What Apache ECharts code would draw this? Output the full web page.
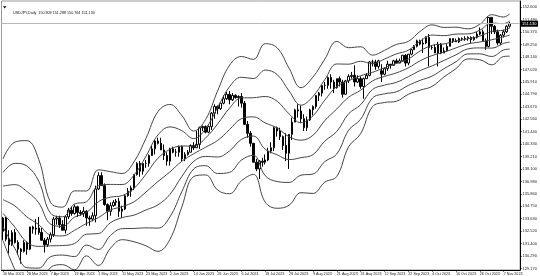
<!DOCTYPE html>
<html><head><meta charset="utf-8">
<script src="https://cdn.jsdelivr.net/npm/echarts@6/dist/echarts.min.js"></script>
<style>html,body{margin:0;padding:0;background:#fff}#c{width:540px;height:276px}</style>
</head><body><div id="c"></div>
<script>
const symbolName = 'USDJPY,Daily';
const dates = [
'16 Mar 2023','17 Mar 2023','20 Mar 2023','21 Mar 2023','22 Mar 2023','23 Mar 2023','24 Mar 2023','27 Mar 2023','28 Mar 2023','29 Mar 2023','30 Mar 2023','31 Mar 2023',
'3 Apr 2023','4 Apr 2023','5 Apr 2023','6 Apr 2023','7 Apr 2023','10 Apr 2023','11 Apr 2023','12 Apr 2023','13 Apr 2023','14 Apr 2023','17 Apr 2023','18 Apr 2023','19 Apr 2023','20 Apr 2023','21 Apr 2023','24 Apr 2023','25 Apr 2023','26 Apr 2023','27 Apr 2023','28 Apr 2023',
'1 May 2023','2 May 2023','3 May 2023','4 May 2023','5 May 2023','8 May 2023','9 May 2023','10 May 2023','11 May 2023','12 May 2023','15 May 2023','16 May 2023','17 May 2023','18 May 2023','19 May 2023','22 May 2023','23 May 2023','24 May 2023','25 May 2023','26 May 2023','29 May 2023','30 May 2023','31 May 2023',
'1 Jun 2023','2 Jun 2023','5 Jun 2023','6 Jun 2023','7 Jun 2023','8 Jun 2023','9 Jun 2023','12 Jun 2023','13 Jun 2023','14 Jun 2023','15 Jun 2023','16 Jun 2023','19 Jun 2023','20 Jun 2023','21 Jun 2023','22 Jun 2023','23 Jun 2023','26 Jun 2023','27 Jun 2023','28 Jun 2023','29 Jun 2023','30 Jun 2023',
'3 Jul 2023','4 Jul 2023','5 Jul 2023','6 Jul 2023','7 Jul 2023','10 Jul 2023','11 Jul 2023','12 Jul 2023','13 Jul 2023','14 Jul 2023','17 Jul 2023','18 Jul 2023','19 Jul 2023','20 Jul 2023','21 Jul 2023','24 Jul 2023','25 Jul 2023','26 Jul 2023','27 Jul 2023','28 Jul 2023','31 Jul 2023',
'1 Aug 2023','2 Aug 2023','3 Aug 2023','4 Aug 2023','7 Aug 2023','8 Aug 2023','9 Aug 2023','10 Aug 2023','11 Aug 2023','14 Aug 2023','15 Aug 2023','16 Aug 2023','17 Aug 2023','18 Aug 2023','21 Aug 2023','22 Aug 2023','23 Aug 2023','24 Aug 2023','25 Aug 2023','28 Aug 2023','29 Aug 2023','30 Aug 2023','31 Aug 2023',
'1 Sep 2023','4 Sep 2023','5 Sep 2023','6 Sep 2023','7 Sep 2023','8 Sep 2023','11 Sep 2023','12 Sep 2023','13 Sep 2023','14 Sep 2023','15 Sep 2023','18 Sep 2023','19 Sep 2023','20 Sep 2023','21 Sep 2023','22 Sep 2023','25 Sep 2023','26 Sep 2023','27 Sep 2023','28 Sep 2023','29 Sep 2023',
'2 Oct 2023','3 Oct 2023','4 Oct 2023','5 Oct 2023','6 Oct 2023','9 Oct 2023','10 Oct 2023','11 Oct 2023','12 Oct 2023','13 Oct 2023','16 Oct 2023','17 Oct 2023','18 Oct 2023','19 Oct 2023','20 Oct 2023','23 Oct 2023','24 Oct 2023','25 Oct 2023','26 Oct 2023','27 Oct 2023','30 Oct 2023','31 Oct 2023',
'1 Nov 2023','2 Nov 2023','3 Nov 2023','6 Nov 2023','7 Nov 2023','8 Nov 2023','9 Nov 2023'];

const open = [
132.5,133.7,131.8,131.3,132.4,131.5,130.9,130.7,131.5,130.9,
132.9,132.7,132.8,132.4,131.7,131.3,131.8,132.2,133.6,133.7,
133.1,132.6,133.8,134.4,134.1,134.7,134.2,134.1,134.3,133.7,
133.6,133.9,136.3,137.5,136.6,134.9,134.3,134.8,135.1,135.2,
134.3,134.5,135.7,136.1,136.4,137.6,138.6,137.9,138.6,138.6,
139.3,139.9,140.6,140.4,139.8,139.3,138.8,139.9,139.6,139.6,
140.1,139.0,139.4,139.6,140.2,140.0,140.3,141.8,141.9,141.4,
141.9,143.1,143.7,143.5,144.0,144.4,144.8,144.3,144.7,144.5,
144.6,144.0,142.1,141.3,140.4,138.7,138.1,138.8,138.7,138.9,
139.7,140.0,141.8,141.5,141.0,140.2,139.5,141.2,142.3,143.4,
143.3,142.6,141.8,142.5,143.4,143.7,144.7,144.9,145.6,145.6,
146.3,145.9,145.4,146.2,145.9,144.8,146.0,146.4,146.5,145.9,
146.2,145.5,146.2,146.5,147.7,147.7,147.3,146.9,146.6,147.1,
147.5,147.4,147.8,147.6,147.8,148.3,147.6,148.4,148.8,149.1,
149.6,149.3,149.4,149.9,149.0,149.0,148.5,149.3,148.5,148.7,
149.1,149.8,149.6,149.5,149.8,149.8,149.8,149.9,149.7,149.9,
150.2,150.4,149.6,149.1,151.7,150.9,150.4,149.4,150.1,150.4,
150.909];
const high = [
133.8,133.8,132.6,132.6,132.7,131.7,131.0,131.7,131.6,132.9,
133.0,133.6,133.8,132.8,131.9,132.0,132.4,133.8,133.9,133.9,
133.5,133.9,134.6,134.7,134.9,134.8,134.4,134.7,134.4,133.9,
134.2,136.6,137.8,137.8,136.8,135.0,135.1,135.3,135.4,135.5,
134.8,135.8,136.4,136.6,137.6,138.7,138.8,138.6,138.9,139.4,
140.2,140.7,140.9,140.9,140.3,139.6,140.0,140.1,139.9,140.2,
140.2,139.6,139.8,140.3,140.5,141.5,141.9,142.0,142.0,142.0,
143.2,143.9,143.8,144.0,144.7,145.0,145.1,144.9,144.8,144.7,
144.9,144.2,142.4,141.5,140.4,139.0,138.9,139.1,139.4,140.0,
140.5,141.9,141.9,141.8,141.1,141.3,141.2,142.7,143.5,143.9,
143.8,143.0,142.8,143.5,143.8,144.7,145.0,145.6,145.9,146.4,
146.6,146.1,146.2,146.4,146.1,146.1,146.6,146.8,147.4,146.5,
146.4,146.3,146.7,147.8,147.9,147.9,147.9,147.5,147.2,147.8,
147.5,147.9,148.0,148.0,148.3,148.4,148.4,148.9,149.2,149.7,
149.7,149.8,150.0,150.2,149.2,149.3,149.5,149.4,149.0,149.3,
149.8,149.8,149.8,149.9,149.9,150.0,150.0,150.0,150.0,150.4,
150.8,150.6,149.8,151.7,151.7,151.0,150.6,150.2,150.6,151.0,
151.288];
const low = [
131.7,131.6,130.5,131.2,131.4,130.4,129.6,130.6,130.4,130.8,
132.3,132.2,132.2,131.7,130.6,131.1,131.5,132.0,133.1,132.8,
132.6,132.3,133.6,133.9,134.0,133.8,133.9,133.8,133.0,133.0,
133.4,133.3,136.2,136.6,134.8,133.5,133.9,134.7,134.8,133.8,
133.7,134.4,135.6,135.6,136.2,137.5,137.4,137.6,138.2,138.3,
139.3,139.4,140.3,139.8,138.9,138.4,138.4,139.5,139.2,139.2,
138.8,138.8,139.3,139.6,139.8,140.0,139.9,141.5,141.3,141.3,
141.6,142.6,143.0,143.4,143.9,144.3,143.9,144.2,144.4,143.7,
143.6,142.1,140.9,140.1,138.7,137.9,137.2,138.3,138.5,138.8,
139.5,139.7,141.0,140.7,139.8,138.8,138.1,140.7,142.3,142.7,
142.2,141.5,141.5,142.4,142.9,143.5,144.2,144.6,145.2,145.3,
145.3,144.9,145.3,145.5,144.5,144.8,145.8,146.2,145.5,145.8,
145.3,144.4,146.2,146.4,147.3,147.0,147.1,145.9,146.5,146.9,
147.1,147.4,147.6,147.6,147.8,147.3,147.4,148.3,148.8,149.0,
149.2,148.5,149.3,147.3,148.8,148.5,147.3,148.4,148.5,148.6,
149.1,149.4,149.5,149.4,149.6,149.6,149.6,149.4,149.6,149.8,
150.1,149.6,148.8,149.0,150.2,150.2,149.2,149.2,149.9,150.3,
150.764];
const close = [
133.7,131.8,131.3,132.4,131.5,130.9,130.7,131.5,130.9,132.9,
132.7,132.8,132.4,131.7,131.3,131.8,132.2,133.6,133.7,133.1,
132.6,133.8,134.4,134.1,134.7,134.2,134.1,134.3,133.7,133.6,
133.9,136.3,137.5,136.6,134.9,134.3,134.8,135.1,135.2,134.3,
134.5,135.7,136.1,136.4,137.6,138.6,137.9,138.6,138.6,139.3,
139.9,140.6,140.4,139.8,139.3,138.8,139.9,139.6,139.6,140.1,
139.0,139.4,139.6,140.2,140.0,140.3,141.8,141.9,141.4,141.9,
143.1,143.7,143.5,144.0,144.4,144.8,144.3,144.7,144.5,144.6,
144.0,142.1,141.3,140.4,138.7,138.1,138.8,138.7,138.9,139.7,
140.0,141.8,141.5,141.0,140.2,139.5,141.2,142.3,143.4,143.3,
142.6,141.8,142.5,143.4,143.7,144.7,144.9,145.6,145.6,146.3,
145.9,145.4,146.2,145.9,144.8,146.0,146.4,146.5,145.9,146.2,
145.5,146.2,146.5,147.7,147.7,147.3,147.8,146.6,147.1,147.5,
147.4,147.8,147.6,147.8,148.3,147.6,148.4,148.8,149.1,149.6,
149.3,149.4,149.9,149.0,149.0,148.5,149.3,148.5,148.7,149.1,
149.8,149.6,149.5,149.8,149.8,149.8,149.9,149.7,149.9,150.2,
150.4,149.6,149.1,151.7,150.9,150.4,149.4,150.1,150.4,150.9,
151.130];

const yTickLabels = ['152.600','151.480','150.370','149.250','148.140','147.020','145.910','144.790','143.670','142.560','141.440',
'140.330','139.210','138.100','136.980','135.860','134.750','133.630','132.520','131.400','130.290','129.170'];

// band lines, read at every 4th bar
const bandIdx = [0,4,8,12,16,20,24,28,32,36,40,44,48,52,56,60,64,68,72,76,80,84,88,92,96,100,104,108,112,116,120,124,128,132,136,140,144,148,152,156,160,164,168,170];
const bandUp3 = [139.00,140.51,140.64,138.95,135.08,134.67,136.13,136.12,138.02,137.86,137.69,138.76,140.86,143.24,143.89,142.90,141.50,142.54,145.09,147.39,148.19,147.93,149.34,148.97,147.14,145.39,146.34,147.96,149.54,148.98,149.06,148.31,148.74,149.27,149.54,150.45,151.03,150.80,150.82,150.67,151.08,151.94,151.73,152.00];
const bandUp2 = [137.78,138.60,138.36,137.00,134.11,133.81,134.95,135.15,136.59,136.71,136.70,137.56,139.25,141.15,141.87,141.53,140.82,141.71,143.61,145.47,146.33,146.21,146.97,146.57,145.09,143.82,144.60,146.12,147.52,147.50,147.76,147.54,147.96,148.42,148.75,149.57,150.11,150.06,150.20,150.22,150.55,151.19,151.14,151.37];
const bandUp1 = [136.56,136.69,136.08,135.05,133.14,132.95,133.77,134.18,135.16,135.56,135.71,136.36,137.64,139.06,139.85,140.16,140.14,140.88,142.13,143.55,144.47,144.49,144.60,144.17,143.04,142.25,142.86,144.28,145.50,146.02,146.46,146.77,147.18,147.57,147.96,148.69,149.19,149.32,149.58,149.77,150.02,150.44,150.55,150.74];
const bandMid = [135.34,134.78,133.80,133.10,132.17,132.09,132.59,133.21,133.73,134.41,134.72,135.16,136.03,136.97,137.83,138.79,139.46,140.05,140.65,141.63,142.61,142.77,142.23,141.77,140.99,140.68,141.12,142.44,143.48,144.54,145.16,146.00,146.40,146.72,147.17,147.81,148.27,148.58,148.96,149.32,149.49,149.69,149.96,150.11];
const bandLo1 = [134.12,132.87,131.52,131.15,131.20,131.23,131.41,132.24,132.30,133.26,133.73,133.96,134.42,134.88,135.81,137.42,138.78,139.22,139.17,139.71,140.75,141.05,139.86,139.37,138.94,139.11,139.38,140.60,141.46,143.06,143.86,145.23,145.62,145.87,146.38,146.93,147.35,147.84,148.34,148.87,148.96,148.94,149.37,149.48];
const bandLo2 = [132.90,130.96,129.24,129.20,130.23,130.37,130.23,131.27,130.87,132.11,132.74,132.76,132.81,132.79,133.79,136.05,138.10,138.39,137.69,137.79,138.89,139.33,137.49,136.97,136.89,137.54,137.64,138.76,139.44,141.58,142.56,144.46,144.84,145.02,145.59,146.05,146.43,147.10,147.72,148.42,148.43,148.19,148.78,148.85];
const bandLo3 = [131.68,129.05,126.96,127.25,129.26,129.51,129.05,130.30,129.44,130.96,131.75,131.56,131.20,130.70,131.77,134.68,137.42,137.56,136.21,135.87,137.03,137.61,135.12,134.57,134.84,135.97,135.90,136.92,137.42,140.10,141.26,143.69,144.06,144.17,144.80,145.17,145.51,146.36,147.10,147.97,147.90,147.44,148.19,148.22];

const chart = echarts.init(document.getElementById('c'), null, {renderer: 'canvas'});
const FONT = 'Liberation Sans';
const cats = dates.concat(['', '', '']);
const candles = dates.map((d, i) => [open[i], close[i], low[i], high[i]]);
const last = dates.length - 1;
const fmt = v => Number(v).toFixed(3);
const titleText = symbolName + '  ' + [open[last], high[last], low[last], close[last]].map(fmt).join(' ');
const tickVals = yTickLabels.map(Number);
const band = arr => bandIdx.map((x, k) => [x, arr[k]]);
const lineSeries = arr => ({
  type: 'line', data: band(arr), smooth: 0.4, symbol: 'none', showSymbol: false,
  lineStyle: {color: '#444', width: 1}, silent: true, z: 3, clip: true
});
const labelEvery = (i) => i % 8 === 0;

chart.setOption({
  animation: false,
  title: {text: titleText, left: 8, top: 5.5,
    textStyle: {fontSize: 3.7, fontWeight: 'normal', color: '#111', fontFamily: FONT}},
  graphic: [{type: 'polygon', shape: {points: [[3, 6.3], [6.4, 6.3], [4.7, 8.6]]}, style: {fill: '#000'}}],
  grid: {left: 0, right: 18, top: 1, bottom: 6, show: true, borderColor: '#999', borderWidth: 1},
  xAxis: {
    type: 'category', data: cats, boundaryGap: true,
    axisLine: {lineStyle: {color: '#000', width: 1}},
    axisTick: {show: true, interval: labelEvery, alignWithLabel: true, length: 1.5, lineStyle: {color: '#000'}},
    axisLabel: {interval: labelEvery, align: 'left', fontSize: 3.7, color: '#222', margin: 1.5, fontFamily: FONT},
    splitLine: {show: false}
  },
  yAxis: {
    type: 'value', position: 'right', min: 129.03, max: 153.17,
    axisLine: {show: true, lineStyle: {color: '#000', width: 1}},
    axisTick: {show: true, customValues: tickVals, length: 1.5, lineStyle: {color: '#000'}},
    axisLabel: {customValues: tickVals, formatter: v => fmt(v), fontSize: 4, color: '#222', margin: 2.5, fontFamily: FONT},
    splitLine: {show: false}
  },
  series: [
    {
      type: 'candlestick', data: candles, barWidth: 2, z: 2,
      itemStyle: {color: '#ffffff', color0: '#000000', borderColor: '#000000', borderColor0: '#000000', borderWidth: 1},
      markLine: {
        silent: true, symbol: ['none', 'none'],
        data: [{yAxis: close[last]}],
        lineStyle: {color: '#b8b8b8', type: 'solid', width: 1},
        label: {show: true, position: 'end', formatter: fmt(close[last]), color: '#fff', backgroundColor: '#000',
          fontSize: 4, padding: [1, 1.5], distance: 0.5, fontFamily: FONT}
      }
    },
    lineSeries(bandUp3), lineSeries(bandUp2), lineSeries(bandUp1), lineSeries(bandMid),
    lineSeries(bandLo1), lineSeries(bandLo2), lineSeries(bandLo3)
  ]
});
</script>
</body></html>
